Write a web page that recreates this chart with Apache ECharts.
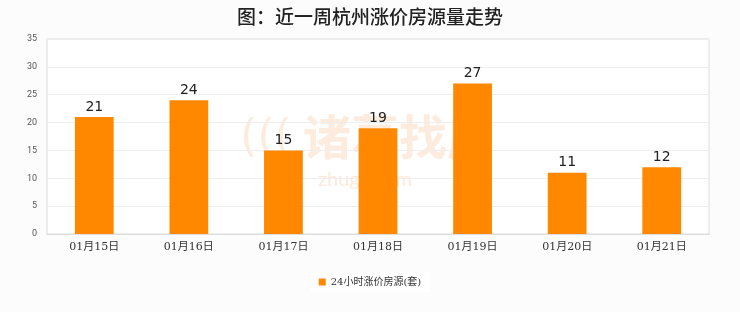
<!DOCTYPE html>
<html><head><meta charset="utf-8">
<script src="https://cdn.jsdelivr.net/npm/echarts@6/dist/echarts.min.js"></script>
<style>html,body{margin:0;padding:0;background:#fcfcfc}#c{width:740px;height:312px}</style>
</head><body><div id="c"></div>
<script>
const categories = ["01月15日","01月16日","01月17日","01月18日","01月19日","01月20日","01月21日"];
const values = [21,24,15,19,27,11,12];
const yTicks = [0,5,10,15,20,25,30,35];
const seriesName = "24小时涨价房源(套)";
const chart = echarts.init(document.getElementById('c'));
chart.setOption({
  backgroundColor: '#fcfcfc',
  animation: false,
  title: {text: '图：近一周杭州涨价房源量走势', left: 'center', top: 2,
    textStyle: {fontSize: 19, fontWeight: 500, color: '#222', fontFamily: '"Noto Sans CJK SC", sans-serif'}},
  graphic: [
    {type: 'text', left: 240, top: 118, style: {text: '(((', fontSize: 44, fill: 'rgba(250,200,160,0.35)', fontFamily: 'DejaVu Sans'}},
    {type: 'text', left: 303, top: 113, style: {text: '诸葛找房', fontSize: 48, fontWeight: 'bold', fill: 'rgba(250,200,160,0.35)', fontFamily: '"Noto Sans CJK SC"'}},
    {type: 'text', left: 318, top: 170, style: {text: 'zhuge.com', fontSize: 20, fill: 'rgba(250,200,160,0.4)', fontFamily: 'Lato', letterSpacing: 10}}
  ],
  legend: {bottom: 20, left: 'center', itemWidth: 7, itemHeight: 7, icon: 'rect', backgroundColor: '#fff', padding: [5, 8],
    textStyle: {fontSize: 10, color: '#333', fontFamily: '"DejaVu Serif", "Noto Sans CJK SC", serif'}, data: [seriesName]},
  grid: {left: 47, right: 31, top: 39, bottom: 78, show: true, backgroundColor: '#fff', borderColor: '#ddd', borderWidth: 1},
  xAxis: {type: 'category', data: categories,
    axisLine: {lineStyle: {color: '#ddd'}}, axisTick: {show: false},
    axisLabel: {color: '#333', fontSize: 11, fontFamily: '"DejaVu Serif", "Noto Sans CJK SC", serif', margin: 8}},
  yAxis: {type: 'value', min: yTicks[0], max: yTicks[yTicks.length-1], interval: 5,
    axisLine: {show: false}, axisTick: {show: false},
    splitLine: {lineStyle: {color: '#eee'}},
    axisLabel: {color: '#555', fontSize: 9, margin: 10, fontFamily: 'Roboto'}},
  series: [{name: seriesName, type: 'bar', data: values, barWidth: '41%',
    itemStyle: {color: '#ff8800'},
    label: {show: true, position: 'top', color: '#222', fontSize: 14, distance: 3, fontFamily: '"DejaVu Sans"'}}]
});
</script></body></html>
